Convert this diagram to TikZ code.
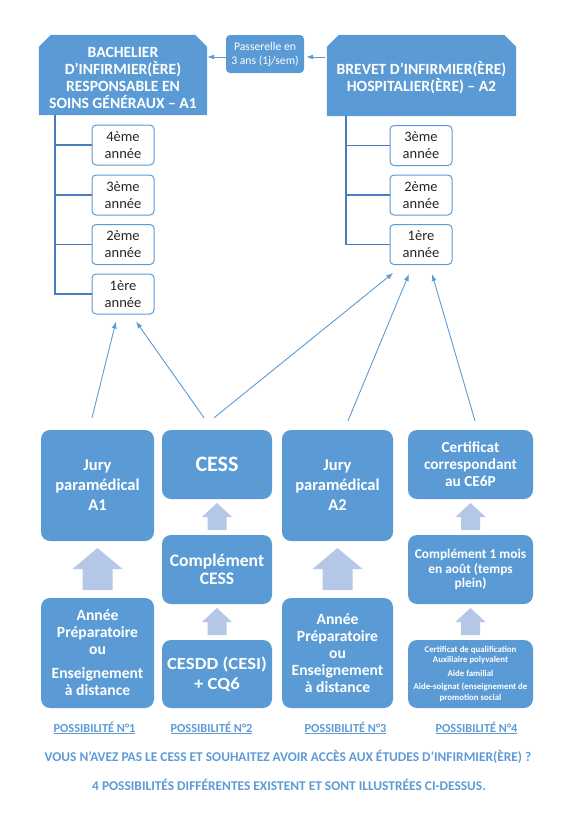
\documentclass[tikz,border=0pt]{standalone}
\usepackage{fontspec}
\setmainfont{Carlito}
\usetikzlibrary{arrows.meta,backgrounds,calc}
\definecolor{boxblue}{HTML}{5B9BD5}
\definecolor{arrlight}{HTML}{B4C7E7}
\definecolor{treeblue}{HTML}{4A7DBA}
\definecolor{txtblue}{HTML}{5E9BD6}
\newcommand{\blkarrow}[6]{%
  \fill[arrowfill] (#1,#2) -- (#1+#5,#3) -- (#1+#6,#3) -- (#1+#6,#4) -- (#1-#6,#4) -- (#1-#6,#3) -- (#1-#5,#3) -- cycle;}
\begin{document}
\begin{tikzpicture}[x=1pt,y=-1pt,
  header/.style={text=white, font=\fontsize{15.6}{17}\selectfont\bfseries, align=center, inner sep=0pt},
  pass/.style={fill=boxblue, rounded corners=4pt, text=white, font=\fontsize{11.7}{14}\selectfont, align=center, minimum width=78pt, minimum height=38pt, inner sep=0pt},
  yearbox/.style={draw=boxblue, line width=1pt, fill=white, rounded corners=4pt, minimum width=62pt, minimum height=40pt, align=center, font=\fontsize{14.5}{17}\selectfont, inner sep=0pt, text=black!85},
  bluebox/.style={fill=boxblue, rounded corners=9pt, text=white, align=center, inner sep=0pt},
  tree/.style={draw=treeblue, line width=1.4pt},
  link/.style={draw=boxblue, line width=0.9pt, -{Latex[length=7pt,width=5pt]}},
  arrowfill/.style={fill=arrlight},
  lbl/.style={text=txtblue, font=\fontsize{12.3}{14}\selectfont\bfseries, inner sep=0pt},
  note/.style={text=txtblue, font=\fontsize{13.4}{15}\selectfont\bfseries, inner sep=0pt}
]
\useasboundingbox (0,0) rectangle (575,817);

% headers (node placed 2.5pt low so the text sits as in the original)
\node[header, minimum width=168pt, minimum height=80pt] (h1) at (123,77.5)
  {BACHELIER\\D’INFIRMIER(ÈRE)\\RESPONSABLE EN\\SOINS GÉNÉRAUX – A1};
\node[header, minimum width=189pt, minimum height=81pt] (h2) at (421.5,78)
  {BREVET D’INFIRMIER(ÈRE)\\HOSPITALIER(ÈRE) – A2};
\begin{scope}[on background layer]
  \fill[boxblue] ([yshift=2.5pt]h1.south west) -- ([yshift=-9.5pt]h1.north west) -- ([xshift=12pt,yshift=2.5pt]h1.north west)
    -- ([xshift=-12pt,yshift=2.5pt]h1.north east) -- ([yshift=-9.5pt]h1.north east) -- ([yshift=2.5pt]h1.south east) -- cycle;
  \fill[boxblue] ([yshift=2.5pt]h2.south west) -- ([yshift=-9.5pt]h2.north west) -- ([xshift=12pt,yshift=2.5pt]h2.north west)
    -- ([xshift=-12pt,yshift=2.5pt]h2.north east) -- ([yshift=-9.5pt]h2.north east) -- ([yshift=2.5pt]h2.south east) -- cycle;
\end{scope}
\node[pass] (pas) at (265,54) {Passerelle en\\3 ans (1j/sem)};
\coordinate (pr) at ([yshift=-3pt]pas.east);
\coordinate (pl) at ([yshift=-3pt]pas.west);
\draw[link, shorten <=2pt, shorten >=2pt] (h2.west |- pr) -- (pr);
\draw[link] (pl) -- (h1.east |- pl);

% year boxes
\node[yearbox] (a4) at (123,145) {4ème\\année};
\node[yearbox] (a3) at (123,195) {3ème\\année};
\node[yearbox] (a2) at (123,244.5) {2ème\\année};
\node[yearbox] (a1) at (123,294) {1ère\\année};
\node[yearbox] (b3) at (421,145.5) {3ème\\année};
\node[yearbox] (b2) at (421,195) {2ème\\année};
\node[yearbox] (b1) at (421,244.5) {1ère\\année};
\foreach \n in {a4,a3,a2,a1} \draw[tree] ([xshift=16pt,yshift=2.5pt]h1.south west) |- (\n.west);
\foreach \n in {b3,b2,b1} \draw[tree] ([xshift=19pt,yshift=2.5pt]h2.south west) |- (\n.west);

% bottom boxes
\node[bluebox, minimum width=113pt, minimum height=111pt, font=\fontsize{16.5}{20}\selectfont\bfseries] (jA1) at (97.5,485.5) {Jury\\paramédical\\A1};
\node[bluebox, minimum width=113pt, minimum height=110pt, font=\fontsize{15.6}{17}\selectfont\bfseries] (anA1) at (97.5,653) {Année\\Préparatoire\\ou\\[7pt]Enseignement\\à distance};
\node[bluebox, minimum width=110pt, minimum height=69pt, font=\fontsize{22}{24}\selectfont\bfseries] (cess) at (217,464.5) {CESS};
\node[bluebox, minimum width=110pt, minimum height=69pt, font=\fontsize{17.6}{18.5}\selectfont\bfseries] (ccess) at (217,569.5) {Complément\\CESS};
\node[bluebox, minimum width=110pt, minimum height=68pt, font=\fontsize{17}{20}\selectfont\bfseries\addfontfeature{FakeStretch=1.1}] (cesdd) at (217,674) {CESDD (CESI)\\+ CQ6};
\node[bluebox, minimum width=111pt, minimum height=111pt, font=\fontsize{16.5}{20}\selectfont\bfseries] (jA2) at (337.5,485.5) {Jury\\paramédical\\A2};
\node[bluebox, minimum width=111pt, minimum height=110pt, font=\fontsize{15.6}{17}\selectfont\bfseries] (anA2) at (337.5,653) {Année\\Préparatoire\\ou\\Enseignement\\à distance};
\node[bluebox, minimum width=125pt, minimum height=69pt, font=\fontsize{15.3}{17}\selectfont\bfseries] (cert) at (470.5,464.5) {Certificat\\correspondant\\au CE6P};
\node[bluebox, minimum width=125pt, minimum height=69pt, font=\fontsize{13.4}{14.5}\selectfont\bfseries] (comp1) at (470.5,569.5) {Complément 1 mois\\en août (temps\\plein)};
\node[bluebox, minimum width=125pt, minimum height=68pt, font=\fontsize{8.8}{10.5}\selectfont\bfseries] (qual) at (470.5,674) {Certificat de qualification\\Auxiliaire polyvalent\\[3pt]Aide familial\\[3pt]Aide-soignat (enseignement de\\promotion social};

% block arrows
\blkarrow{97.5}{548}{569}{590}{25}{15}
\blkarrow{337.5}{548}{569}{590}{25}{15}
\blkarrow{217}{503}{517}{530}{15}{9.5}
\blkarrow{217}{608}{622}{635}{15}{9.5}
\blkarrow{470.5}{503}{517}{530}{15}{9.5}
\blkarrow{470.5}{608}{622}{635}{15}{9.5}

% links
\coordinate (s1) at ([xshift=-5.5pt,yshift=12pt]jA1.north);
\coordinate (s2) at ([xshift=-13pt,yshift=12pt]cess.north);
\coordinate (s3) at ([xshift=-3pt,yshift=12pt]cess.north);
\coordinate (s4) at ([xshift=10.5pt,yshift=9pt]jA2.north);
\coordinate (s5) at ([xshift=4.5pt,yshift=9pt]cert.north);
\draw[link, shorten >=7.2pt] (s1) -- ([xshift=-5.3pt]a1.south);
\draw[link, shorten >=8.5pt] (s2) -- ([xshift=8.1pt]a1.south);
\draw[link, shorten >=12.6pt] (s3) -- ([xshift=-18pt]b1.south);
\draw[link, shorten >=9.7pt] (s4) -- ([xshift=-8.3pt]b1.south);
\draw[link, shorten >=9.4pt] (s5) -- ([xshift=8.4pt]b1.south);

% labels
\node[lbl] (p1) at (94.5,728) {\underline{POSSIBILITÉ N°1}};
\node[lbl] (p2) at (211.5,728) {\underline{POSSIBILITÉ N°2}};
\node[lbl] (p3) at (345.5,728) {\underline{POSSIBILITÉ N°3}};
\node[lbl] (p4) at (476.5,728) {\underline{POSSIBILITÉ N°4}};
\node[note] (q1) at (288,757) {VOUS N’AVEZ PAS LE CESS ET SOUHAITEZ AVOIR ACCÈS AUX ÉTUDES D’INFIRMIER(ÈRE) ?};
\node[note] (q2) at (289,785) {4 POSSIBILITÉS DIFFÉRENTES EXISTENT ET SONT ILLUSTRÉES CI-DESSUS.};
\end{tikzpicture}
\end{document}
